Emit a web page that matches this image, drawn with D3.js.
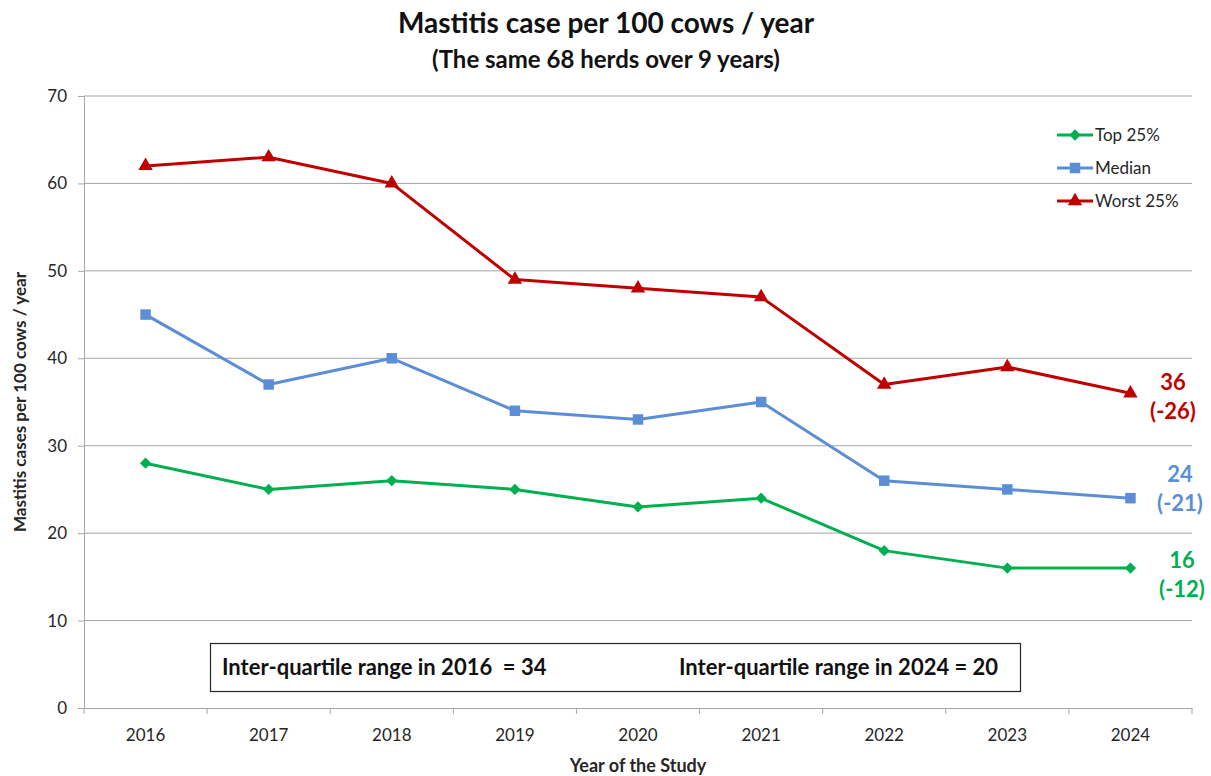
<!DOCTYPE html>
<html>
<head>
<meta charset="utf-8">
<script src="https://cdn.jsdelivr.net/npm/d3@7/dist/d3.min.js"></script>
<style>
  html, body { margin: 0; padding: 0; background: #fff; }
  svg { display: block; font-family: "Lato", "Open Sans", sans-serif; }
</style>
</head>
<body>
<svg id="chart" width="1211" height="776"></svg>
<script>
// Survey years and herd-group results (cases per 100 cows per year)
const years = ["2016", "2017", "2018", "2019", "2020", "2021", "2022", "2023", "2024"];
const top25 = [28, 25, 26, 25, 23, 24, 18, 16, 16];
const median = [45, 37, 40, 34, 33, 35, 26, 25, 24];
const worst25 = [62, 63, 60, 49, 48, 47, 37, 39, 36];
const yTicks = [0, 10, 20, 30, 40, 50, 60, 70];

// End-of-line annotations: final value and change since 2016
const endNotes = [
  { series: "Worst 25%", value: "36", change: "(-26)" },
  { series: "Median", value: "24", change: "(-21)" },
  { series: "Top 25%", value: "16", change: "(-12)" }
];
const iqrNotes = ["Inter-quartile range in 2016  = 34", "Inter-quartile range in 2024 = 20"];

const diamond = {
  draw(ctx, size) {
    const r = Math.sqrt(size) / 2 * Math.SQRT2;
    ctx.moveTo(0, -r); ctx.lineTo(r, 0); ctx.lineTo(0, r); ctx.lineTo(-r, 0); ctx.closePath();
  }
};

const series = [
  { name: "Top 25%", values: top25, color: "#00B050", symbol: diamond, size: 64 },
  { name: "Median", values: median, color: "#5B8ED6", symbol: d3.symbolSquare, size: 110 },
  { name: "Worst 25%", values: worst25, color: "#C00000", symbol: d3.symbolTriangle, size: 90 }
];

const svg = d3.select("#chart");
const margin = { left: 84, right: 1192, top: 96, bottom: 708 };

const x = d3.scaleBand().domain(years).range([margin.left, margin.right]);
const y = d3.scaleLinear().domain([0, 70]).range([margin.bottom, margin.top]);

// Horizontal gridlines
svg.append("g")
  .selectAll("line")
  .data(yTicks.filter(t => t > 0))
  .join("line")
  .attr("x1", margin.left).attr("x2", margin.right)
  .attr("y1", d => y(d)).attr("y2", d => y(d))
  .attr("stroke", "#a6a6a6").attr("stroke-width", 1);

// Y axis
const yAxis = svg.append("g")
  .attr("transform", `translate(${margin.left},0)`)
  .call(d3.axisLeft(y).tickValues(yTicks).tickSize(6).tickPadding(11));
yAxis.select(".domain").attr("stroke", "#a6a6a6");
yAxis.selectAll(".tick line").attr("stroke", "#a6a6a6");
yAxis.selectAll(".tick text").attr("font-size", 17).attr("fill", "#262626")
  .attr("font-family", "Lato, sans-serif");

// X axis: ticks sit on the category boundaries
const xAxis = svg.append("g")
  .attr("transform", `translate(0,${margin.bottom})`)
  .call(d3.axisBottom(x).tickSize(0).tickPadding(21));
xAxis.select(".domain").attr("stroke", "#a6a6a6");
xAxis.selectAll(".tick text").attr("font-size", 17).attr("fill", "#262626")
  .attr("font-family", "Lato, sans-serif");
svg.append("g")
  .selectAll("line")
  .data(years.concat(["end"]))
  .join("line")
  .attr("x1", (d, i) => margin.left + i * x.bandwidth())
  .attr("x2", (d, i) => margin.left + i * x.bandwidth())
  .attr("y1", margin.bottom).attr("y2", margin.bottom + 6)
  .attr("stroke", "#a6a6a6");

// Series lines and markers
const line = d3.line()
  .x((d, i) => x(years[i]) + x.bandwidth() / 2)
  .y(d => y(d));

series.forEach(s => {
  svg.append("path")
    .datum(s.values)
    .attr("d", line)
    .attr("fill", "none")
    .attr("stroke", s.color)
    .attr("stroke-width", 3)
    .attr("stroke-linejoin", "round");
  svg.append("g")
    .selectAll("path")
    .data(s.values)
    .join("path")
    .attr("transform", (d, i) => `translate(${x(years[i]) + x.bandwidth() / 2},${y(d)})`)
    .attr("d", d3.symbol().type(s.symbol).size(s.size))
    .attr("fill", s.color);
});

// Legend
const legend = svg.append("g").attr("transform", "translate(1057,135)");
series.forEach((s, i) => {
  const g = legend.append("g").attr("transform", `translate(0,${i * 33})`);
  g.append("line").attr("x1", 0).attr("x2", 36).attr("y1", 0).attr("y2", 0)
    .attr("stroke", s.color).attr("stroke-width", 3);
  g.append("path").attr("transform", "translate(18,0)")
    .attr("d", d3.symbol().type(s.symbol).size(s.size))
    .attr("fill", s.color);
  g.append("text").attr("x", 38).attr("y", 6).attr("font-size", 17)
    .attr("fill", "#262626").text(s.name);
});

// End-of-line value labels
const notePos = {
  "Worst 25%": { cx: 1173, dy: -3 },
  "Median": { cx: 1180, dy: -16 },
  "Top 25%": { cx: 1182, dy: 0 }
};
endNotes.forEach(n => {
  const s = series.find(d => d.name === n.series);
  const last = s.values[s.values.length - 1];
  const p = notePos[n.series];
  const t = svg.append("text")
    .attr("text-anchor", "middle")
    .attr("font-weight", "bold")
    .attr("font-size", 22)
    .attr("fill", s.color);
  t.append("tspan").attr("x", p.cx).attr("y", y(last) + p.dy).text(n.value);
  t.append("tspan").attr("x", p.cx).attr("dy", 29).text(n.change);
});

// Inter-quartile range box
svg.append("rect")
  .attr("x", 210.5).attr("y", 643.5).attr("width", 810).attr("height", 48)
  .attr("fill", "#fff").attr("stroke", "#262626").attr("stroke-width", 1.2);
svg.append("text").attr("x", 222).attr("y", 675).attr("font-size", 22)
  .attr("xml:space", "preserve")
  .attr("font-weight", "bold").attr("fill", "#111").text(iqrNotes[0]);
svg.append("text").attr("x", 679).attr("y", 675).attr("font-size", 22)
  .attr("font-weight", "bold").attr("fill", "#111").text(iqrNotes[1]);

// Titles
svg.append("text").attr("x", 606).attr("y", 33).attr("text-anchor", "middle")
  .attr("font-size", 28).attr("font-weight", "bold").attr("fill", "#111")
  .text("Mastitis case per 100 cows / year");
svg.append("text").attr("x", 606).attr("y", 68).attr("text-anchor", "middle")
  .attr("font-size", 24).attr("font-weight", "bold").attr("fill", "#111")
  .text("(The same 68 herds over 9 years)");
svg.append("text").attr("x", 638).attr("y", 772).attr("text-anchor", "middle")
  .attr("font-size", 18).attr("font-weight", "bold").attr("fill", "#262626")
  .text("Year of the Study");
svg.append("text").attr("transform", "translate(26,402) rotate(-90)")
  .attr("text-anchor", "middle")
  .attr("font-size", 17).attr("font-weight", "bold").attr("fill", "#262626")
  .text("Mastitis cases per 100 cows / year");
</script>
</body>
</html>
